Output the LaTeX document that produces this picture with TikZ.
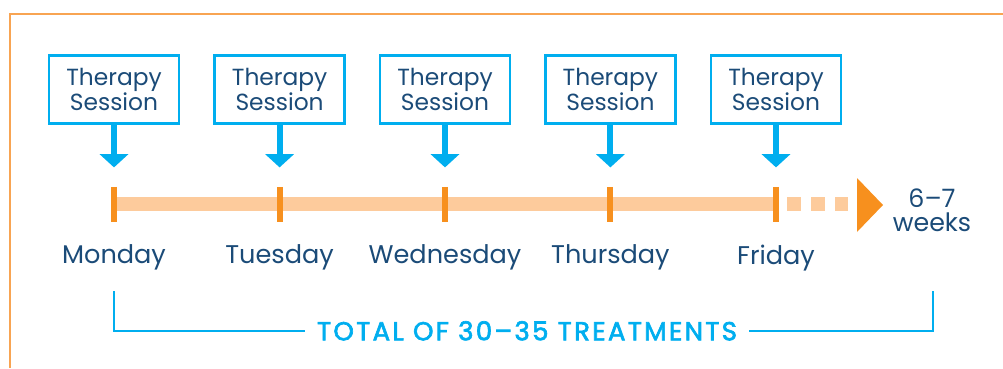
\documentclass[tikz,border=0pt]{standalone}
\usepackage{fontspec}
\setmainfont{Poppins}
\usepackage{xcolor}
\usepackage{tikz}
\usetikzlibrary{arrows.meta}
\usetikzlibrary{positioning}

\definecolor{frameorange}{HTML}{F8A452}
\definecolor{barorange}{HTML}{FDCB9C}
\definecolor{tickorange}{HTML}{F7901E}
\definecolor{sessionblue}{HTML}{00AEEF}
\definecolor{daynavy}{HTML}{1B4B78}

\begin{document}
\begin{tikzpicture}[
    session/.style={draw=sessionblue, line width=2pt, fill=white, minimum width=3.25cm, minimum height=1.7cm, align=center, text=daynavy, font=\fontsize{16.6}{18}\selectfont, inner sep=0pt},
    daylabel/.style={text=daynavy, font=\fontsize{18.2}{20}\selectfont, inner sep=0pt},
    tickmark/.style={draw=tickorange, line width=0.15cm},
    downarrow/.style={draw=sessionblue, line width=0.15cm, -{Triangle[width=0.7cm, length=0.33cm]}}
  ]

        \useasboundingbox (0,0) rectangle (25.075,9.2);

        % open frame
        \draw[frameorange, line width=0.05cm] (0.25,0) -- (0.25,8.85) -- (25.075,8.85);

        % sessions
        \node[session] (S1) at (2.85,6.97) {Therapy\\Session};
        \node[session] (S2) at (6.99,6.97) {Therapy\\Session};
        \node[session] (S3) at (11.125,6.97) {Therapy\\Session};
        \node[session] (S4) at (15.26,6.97) {Therapy\\Session};
        \node[session] (S5) at (19.4,6.97) {Therapy\\Session};

        % timeline points
        \coordinate (T1) at (2.85,4.09);
        \coordinate (T2) at (6.99,4.09);
        \coordinate (T3) at (11.125,4.09);
        \coordinate (T4) at (15.26,4.09);
        \coordinate (T5) at (19.4,4.09);
        \coordinate (D0) at (19.675,4.09);
        \coordinate (D1) at (21.2,4.09);

        \draw[barorange, line width=0.35cm] (T1) -- (T5);
        \draw[barorange, line width=0.35cm, dash pattern=on 0.35cm off 0.25cm] (D0) -- (D1);
        \fill[tickorange] (21.425,4.75) -- (22.075,4.075) -- (21.425,3.4) -- cycle;

        \draw[tickmark] ([yshift=0.44cm]T1) -- ([yshift=-0.44cm]T1);
        \draw[tickmark] ([yshift=0.44cm]T2) -- ([yshift=-0.44cm]T2);
        \draw[tickmark] ([yshift=0.44cm]T3) -- ([yshift=-0.44cm]T3);
        \draw[tickmark] ([yshift=0.44cm]T4) -- ([yshift=-0.44cm]T4);
        \draw[tickmark] ([yshift=0.44cm]T5) -- ([yshift=-0.44cm]T5);

        % arrows down
        \draw[downarrow] (S1.south) -- ++(0,-1.07);
        \draw[downarrow] (S2.south) -- ++(0,-1.07);
        \draw[downarrow] (S3.south) -- ++(0,-1.07);
        \draw[downarrow] (S4.south) -- ++(0,-1.07);
        \draw[downarrow] (S5.south) -- ++(0,-1.07);

        % days
        \node[daylabel] (M) at (2.85,2.76) {Monday};
        \node[daylabel] (Tu) at (6.99,2.76) {Tuesday};
        \node[daylabel] (W) at (11.125,2.76) {Wednesday};
        \node[daylabel] (Th) at (15.26,2.76) {Thursday};
        \node[daylabel] (F) at (19.4,2.76) {Friday};

        \node[daylabel, align=center, font=\fontsize{18}{17}\selectfont] (weeks) at (23.3,3.95) {6–7\\weeks};

        % total bracket
        \node[text=sessionblue, font=\fontsize{18.5}{20}\selectfont\addfontfeatures{FakeBold=2.5, LetterSpace=9}, inner xsep=0.3cm] (total) at (13.175,0.93) {TOTAL OF 30–35 TREATMENTS};
        \coordinate (L) at (2.85,1.925);
        \coordinate (R) at (23.325,1.925);
        \draw[sessionblue, line width=0.06cm] (L) |- (total.west);
        \draw[sessionblue, line width=0.06cm] (R) |- (total.east);

    \end{tikzpicture}
\end{document}
